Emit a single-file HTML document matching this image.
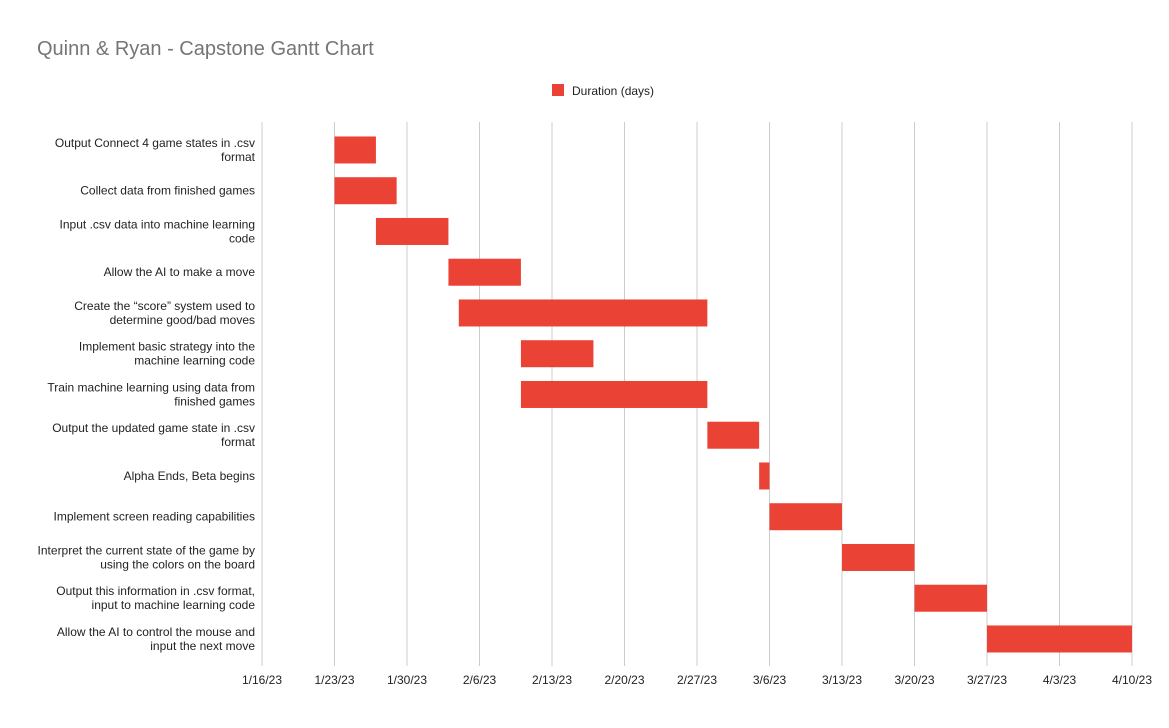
<!DOCTYPE html>
<html><head><meta charset="utf-8"><style>
body{margin:0;background:#fff;}
svg text{font-family:"Liberation Sans",Arial,sans-serif;}
</style></head><body>
<svg id="chart" width="1169" height="723">
<text x="37" y="55" font-size="20" fill="#757575">Quinn &amp; Ryan - Capstone Gantt Chart</text>
<g>
<rect x="552" y="84" width="12" height="12" fill="#ea4335"/>
<text x="572" y="95" font-size="12" fill="#222">Duration (days)</text>
</g>
<g id="grid"></g><g id="bars"></g><g id="labels"></g><g id="ticks"></g>
</svg>
<script>
const tasks=[["Output Connect 4 game states in .csv","format"],["Collect data from finished games"],["Input .csv data into machine learning","code"],["Allow the AI to make a move"],["Create the “score” system used to","determine good/bad moves"],["Implement basic strategy into the","machine learning code"],["Train machine learning using data from","finished games"],["Output the updated game state in .csv","format"],["Alpha Ends, Beta begins"],["Implement screen reading capabilities"],["Interpret the current state of the game by","using the colors on the board"],["Output this information in .csv format,","input to machine learning code"],["Allow the AI to control the mouse and","input the next move"]];
const startDay=[7,7,11,18,19,25,25,43,48,49,56,63,70];
const duration=[4,6,7,7,24,7,18,5,1,7,7,7,14];
const tickLabels=["1/16/23","1/23/23","1/30/23","2/6/23","2/13/23","2/20/23","2/27/23","3/6/23","3/13/23","3/20/23","3/27/23","4/3/23","4/10/23"];
const NS="http://www.w3.org/2000/svg";
const x0=262,x1=1132,maxDay=84;
const xs=d=>x0+(x1-x0)*d/maxDay;
const bandTop=129.6,step=40.75;
const yc=i=>bandTop+step*(i+0.5);
function mk(t,a,p){const e=document.createElementNS(NS,t);for(const k in a)e.setAttribute(k,a[k]);document.getElementById(p).appendChild(e);return e;}
tickLabels.forEach((l,i)=>{const d=i*7,x=xs(d);
const g=mk('line',{x1:x,x2:x,y1:122,y2:666,stroke:'#ccc','stroke-width':1},'grid');


const t=mk('text',{x:x,y:684,'font-size':12,fill:'#222','text-anchor':'middle'},'ticks');t.textContent=l;

});
tasks.forEach((lines,i)=>{const c=yc(i);
const r=mk('rect',{x:xs(startDay[i]),y:c-13.5,width:xs(startDay[i]+duration[i])-xs(startDay[i]),height:27,fill:'#ea4335'},'bars');


const t=mk('text',{x:255,'font-size':12,fill:'#222','text-anchor':'end'},'labels');


const n=lines.length;lines.forEach((s,j)=>{const ts=document.createElementNS(NS,'tspan');ts.setAttribute('x',255);ts.setAttribute('y',c+4+(j-(n-1)/2)*14);ts.textContent=s;t.appendChild(ts);});});
</script>
</body></html>
